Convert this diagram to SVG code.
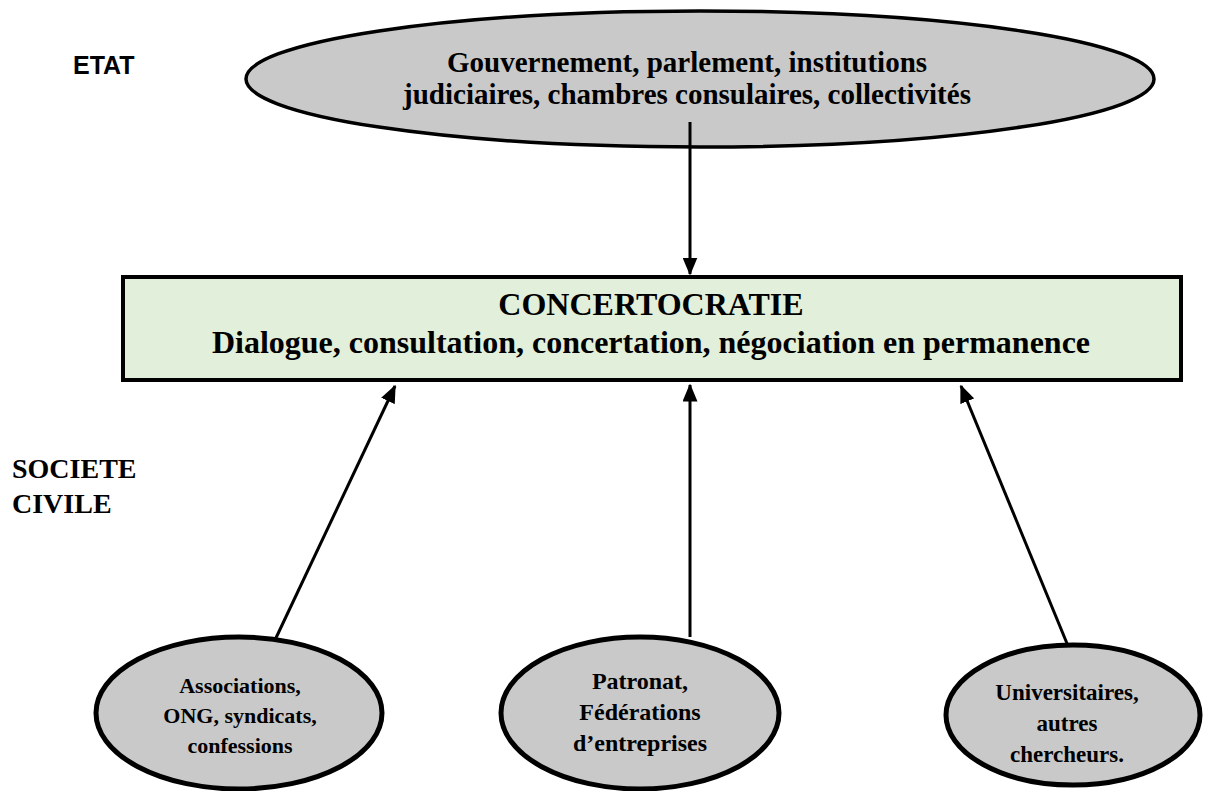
<svg xmlns="http://www.w3.org/2000/svg" width="1211" height="791" viewBox="0 0 1211 791">
<style>
.t{font-family:"Liberation Serif","Times New Roman",serif;font-weight:bold;fill:#000;text-anchor:middle}
.l{font-family:"Liberation Serif","Times New Roman",serif;font-weight:bold;fill:#000}
.oval{fill:#c9c9c9;stroke:#000}
.con{stroke:#000;stroke-width:3;fill:none;marker-end:url(#ah)}
</style>
<defs>
<marker id="ah" markerWidth="6" markerHeight="5" refX="5.5" refY="2.5" orient="auto" markerUnits="strokeWidth">
<path d="M0,0 L6,2.5 L0,5 z" fill="#000"/>
</marker>
</defs>
<rect width="1211" height="791" fill="#fff"/>
<g id="label-etat"><text x="73" y="74" font-family="Liberation Sans, Arial, sans-serif" font-weight="bold" font-size="25">ETAT</text></g>
<g id="label-societe"><text class="l" x="12" y="478" font-size="28">SOCIETE</text><text class="l" x="12" y="513" font-size="28">CIVILE</text></g>
<g id="connectors">
<line class="con" x1="690" y1="122" x2="690" y2="274"/>
<line class="con" x1="275" y1="640" x2="395" y2="386"/>
<line class="con" x1="690" y1="637" x2="690" y2="385"/>
<line class="con" x1="1073" y1="658" x2="961" y2="386"/>
</g>
<g id="etat">
<ellipse class="oval" cx="700" cy="79" rx="454" ry="68" stroke-width="3.5"/>
<text class="t" x="687" y="72" font-size="29">Gouvernement, parlement, institutions</text>
<text class="t" x="687" y="104" font-size="29">judiciaires, chambres consulaires, collectivités</text>
</g>
<line x1="690" y1="122" x2="690" y2="147" stroke="#000" stroke-width="3"/>
<g id="concertocratie">
<rect x="123" y="277" width="1058" height="103" fill="#e2efda" stroke="#000" stroke-width="4"/>
<text class="t" x="651" y="315" font-size="32">CONCERTOCRATIE</text>
<text class="t" x="651" y="353" font-size="32">Dialogue, consultation, concertation, négociation en permanence</text>
</g>
<g id="associations">
<ellipse class="oval" cx="239" cy="713" rx="143" ry="76" stroke-width="5"/>
<text class="t" x="240" y="693" font-size="22">Associations,</text>
<text class="t" x="240" y="723" font-size="22">ONG, syndicats,</text>
<text class="t" x="240" y="753" font-size="22">confessions</text>
</g>
<g id="patronat">
<ellipse class="oval" cx="640" cy="713" rx="139" ry="76" stroke-width="5"/>
<text class="t" x="640" y="689" font-size="24">Patronat,</text>
<text class="t" x="640" y="720" font-size="24">Fédérations</text>
<text class="t" x="640" y="751" font-size="24">d’entreprises</text>
</g>
<g id="universitaires">
<ellipse class="oval" cx="1073" cy="715" rx="127" ry="70" stroke-width="5"/>
<text class="t" x="1067" y="700" font-size="23">Universitaires,</text>
<text class="t" x="1067" y="731" font-size="23">autres</text>
<text class="t" x="1067" y="762" font-size="23">chercheurs.</text>
</g>
</svg>
